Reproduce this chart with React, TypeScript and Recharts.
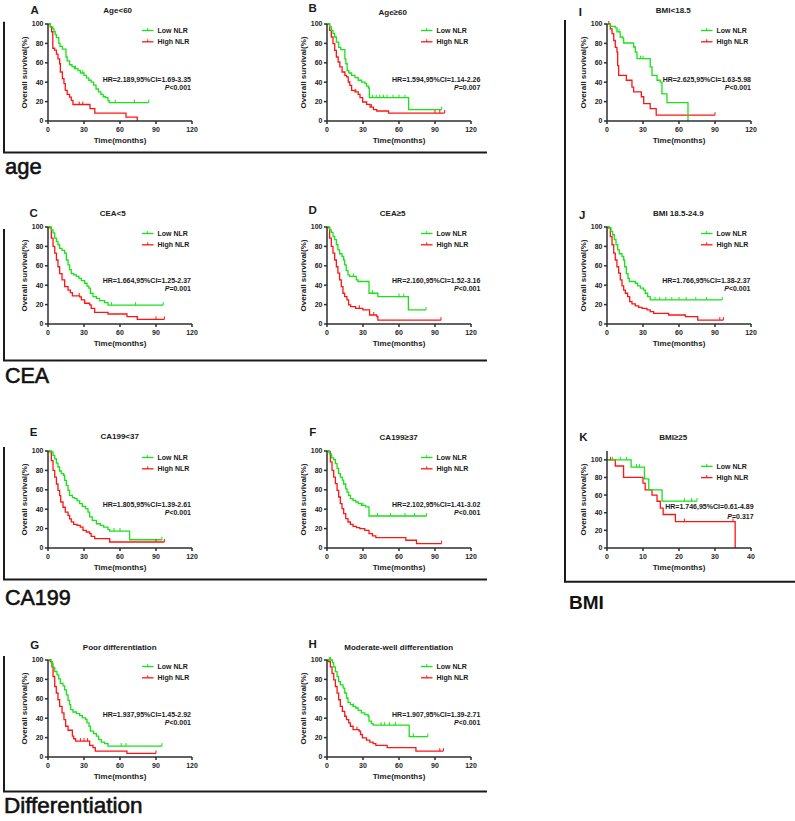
import React from 'react';
import { LineChart, Line, XAxis, YAxis } from 'recharts';

type P = [number, number];

// ---------- Data (time in months, survival in %) ----------
const A_low: P[] = [[0,100],[2,97],[4,95],[5,92],[6,89],[7,86],[9,80],[10,77],[12,74],[15,66],[16,62],[18,58],[20,56],[22,54],[25,52],[27,49.5],[30,47],[32,44.5],[34,42],[36,40],[38,37],[40,33],[42,30],[44,27.5],[46,25],[48,24],[50,21],[51,19],[84,19]];
const A_lowC = [23, 29, 56, 72, 84];
const A_high: P[] = [[0,100],[2,97],[3,92],[4,75],[5.5,73],[7,69],[8.3,64],[9.7,59],[10.3,50.5],[12,43.6],[13.3,38.5],[14.4,31.6],[16,27.5],[18,24.7],[19.4,21.3],[20.8,17],[35,12.7],[39,8.2],[65,4],[74.4,0]];
const A_highC = [26, 29];

const B_low: P[] = [[0,100],[2.2,97],[3.6,93.5],[5,90],[6.4,86.6],[7.8,81.4],[9.8,76],[11.5,73.5],[14.9,64],[15.7,59],[16.8,52],[18.2,49.5],[20.5,47],[23.3,44.7],[26,42],[28.9,40],[31.7,38.5],[33,36],[34.5,34],[35.3,24],[68,11.7],[95.6,11.7]];
const B_lowC = [38, 41, 44, 47, 50, 55, 60, 65, 95.6];
const B_high: P[] = [[0,100],[2.2,93.5],[3.6,86.6],[5,79.7],[6.4,72.9],[7.8,66],[9.3,60.8],[10.7,55.7],[12.6,50.5],[14.9,47],[16.3,45.4],[17.7,40.2],[19,36.8],[20.5,31.6],[23.3,30],[26,27.5],[27.5,24],[29.7,19.6],[33,17.2],[35.9,14.4],[38.7,11.7],[41.5,10.3],[51.3,8.2],[98,8.2]];
const B_highC = [24, 37, 90, 94, 98];

const I_low: P[] = [[0,100],[2.8,97.6],[6.9,96],[8.3,91.8],[11,86.6],[13.3,85],[13.9,80.4],[22.2,76.3],[23.6,71],[25,64.3],[36,55.7],[37.5,47],[41.7,42],[44.4,40],[45.8,28],[50,19],[67.5,0]];
const I_lowC = [3, 10, 28, 30];
const I_high: P[] = [[0,100],[2.8,95],[4.2,90],[5.6,83],[6.9,76],[8.3,71],[8.9,57],[9.7,47],[16.1,42],[20.8,35],[22.2,30],[28.6,25],[30.6,18],[36,12.7],[41,6],[90,6]];
const I_highC = [1.5, 90];

const C_low: P[] = [[0,100],[2.8,97],[4.2,94],[5.6,88.6],[7,85],[8.3,81.7],[9.7,78],[11.7,75.8],[13.9,73],[15.3,66],[16.7,61],[18,56],[19.4,52],[21.4,50.7],[23.6,49],[25.8,47],[27.8,44.8],[30.6,42],[32.5,39],[34,37],[35.3,31.7],[37.5,28.3],[40.3,26.5],[43,24],[47.2,22],[50,19.5],[96,19.5]];
const C_lowC = [53, 73, 96];
const C_high: P[] = [[0,100],[1.4,99],[2.8,88.6],[4.2,80],[5.6,73],[7,66],[8.3,59],[9.7,52],[11.7,45.5],[13.9,38.6],[16.7,35],[18.6,32.4],[20.3,29],[26.4,28],[27.8,24.8],[30.6,21.4],[34.7,19.7],[36,16.2],[38.9,12],[50,10.3],[65.8,7.6],[74.4,4.8],[97,4.8]];
const C_highC = [26, 90, 97];

const D_low: P[] = [[0,100],[2.2,97],[3.6,94.5],[5,90],[6.4,87],[7.8,81.7],[9.1,76.5],[10.5,72.4],[12.5,69.7],[13.9,66],[14.7,61],[16,55],[17.5,50.7],[18.8,49],[24.4,45.5],[25.8,43.8],[35,31.7],[42.4,28.3],[67.8,14.5],[82.5,14.5]];
const D_lowC = [22, 38, 60, 64, 82.5];
const D_high: P[] = [[0,100],[0.8,99],[2.2,88.6],[3.6,80],[5,73],[6.4,66],[7.8,59],[9.1,52.4],[10.5,45.5],[11.9,38.6],[13.3,31.7],[14.7,28.3],[16.6,24.8],[18,19.7],[19.7,18],[23.8,16.2],[29.9,14.5],[35.5,9.3],[41.5,7.6],[42.4,4],[95,4]];
const D_highC = [27, 39, 95];

const J_low: P[] = [[0,100],[2,99],[3.3,95.5],[4.7,92],[6.1,87],[7.5,81.7],[8.9,76.5],[10.3,72.4],[12.5,69.7],[13.9,66],[14.7,59],[16.1,52],[17.5,47],[18.6,43.8],[23.6,42],[25.6,39.3],[27.8,37],[30.6,35],[31.9,31.7],[33.9,28.3],[36,24.8],[96,24.8]];
const J_lowC = [40, 44, 49, 54, 60, 66, 74, 83, 96];
const J_high: P[] = [[0,100],[1.4,99],[2.8,90],[4.2,81.7],[5.6,73],[6.9,66],[8.3,59],[9.7,52.4],[11.1,45.5],[12.5,39.3],[13.9,35],[15.3,31.7],[17.2,28.3],[18.9,23],[20.8,20.7],[23.6,18.6],[26.4,17.2],[29.2,16.2],[33.3,14.5],[36,12.8],[38.9,11],[51.4,9.3],[65.3,7.6],[75.6,4],[97,4]];
const J_highC = [94, 97];

const E_low: P[] = [[0,100],[2.8,99],[4.2,95.5],[5.6,92],[7,87.6],[8.3,83.5],[9.7,79.4],[11.1,76.6],[13,75],[13.9,69.8],[15.3,64.6],[16.7,59.5],[18,54.3],[20.3,51.9],[22.2,50.9],[24.2,48.5],[26.4,45.7],[28.6,43],[31.4,40.5],[33.3,37],[34.7,32],[36.9,28.5],[40.3,25],[43.6,23.4],[46.4,21.6],[50,19],[51.4,17.5],[68,8.5],[95,8.5]];
const E_lowC = [55, 60, 95];
const E_high: P[] = [[0,100],[1.4,99],[2.8,90],[4.2,80],[5.6,73],[7,66],[8.3,59.5],[9.7,54],[10.6,47.4],[12.5,42],[14.4,37],[16.7,33.7],[18,30],[19.4,27],[21.4,24.4],[24.2,23.4],[26.9,21.6],[29.2,18.2],[31.9,16.5],[34.7,14.8],[36,12],[38.9,9.6],[51.4,6.2],[97,6.2]];
const E_highC = [90, 97];

const F_low: P[] = [[0,100],[2.2,97],[3.6,93],[5.6,91],[7,87],[8.4,82],[9.7,76.6],[11.1,73],[12.8,70],[13.9,66],[15.6,61],[16.7,57.7],[18.1,54.3],[19.5,51],[21.7,49],[24,47.4],[26,45.7],[28.7,44],[32.3,42.3],[35,33],[83,33]];
const F_lowC = [4, 30, 42, 53, 65, 73, 83];
const F_high: P[] = [[0,100],[1.4,99],[2.8,88.7],[4.2,80],[5.6,73],[7,66.3],[8.4,59.5],[9.7,52.6],[11.1,45.7],[12.5,40.5],[13.9,35.4],[15.6,30.2],[17.5,26.8],[19.5,24.4],[21.7,22.3],[24.5,21],[27.3,20],[31.5,18.2],[35,14.8],[37.9,12.4],[40.7,10.7],[65.7,8],[74.6,4.5],[95.5,4.5]];
const F_highC = [95.5];

const K_low: P[] = [[0,100],[6.7,91.7],[10.4,78.5],[11.6,66],[15.3,53.2],[25,53.2]];
const K_lowC = [1.5, 3.7, 5.4, 8.2, 9, 21.5, 23.5, 25];
const K_high: P[] = [[0,100],[2.3,93],[4.6,80],[10,73.6],[10.6,66],[12.5,60],[13.9,53],[14.8,45.3],[15.6,38],[19,30],[35.6,0]];
const K_highC = [1, 21.5, 35];

const G_low: P[] = [[0,100],[2.8,96.6],[4.2,92.5],[5.6,88],[7.5,84.6],[8.9,80.5],[10.3,76],[12.5,73.4],[13.9,69.3],[15.3,64],[16.7,58.4],[18,54],[18.9,48.8],[20.8,46.4],[23.6,44.7],[26.4,42.7],[28.6,40.3],[31.4,38.6],[32.5,35.2],[34.2,31.7],[35.3,26.6],[38,24.2],[40.3,21.5],[42.2,18],[44.4,15.4],[47.2,13.7],[50,11.3],[95,11.3]];
const G_lowC = [61, 65, 95];
const G_high: P[] = [[0,100],[1.9,98.3],[3.3,93],[4.2,83],[5.6,72.7],[6.9,66],[8.3,59],[9.7,52.2],[11.7,45.4],[13.3,38.6],[14.7,31.7],[16.7,27.6],[20.3,21.5],[21.4,18.8],[23,16.4],[34.7,12],[37.5,9.6],[39.4,6.1],[65.8,3.8],[90,3.8]];
const G_highC = [27, 30, 33, 90];

const H_low: P[] = [[0,100],[4.5,97.3],[5.6,93],[7,88],[8.4,83],[9.7,77.8],[11.1,74.4],[13.4,71],[14.8,66],[16.2,60.8],[17.5,56.3],[19.5,54],[21.7,52.2],[24,50.5],[26,48.1],[28.7,45.4],[31.5,43.7],[34.3,42],[35,36.9],[37,34.5],[38.4,32.8],[68.5,21],[84,21]];
const H_lowC = [2, 3, 22, 45, 48, 52, 57, 72, 84];
const H_high: P[] = [[0,100],[1.4,98.3],[2.8,93],[4.2,86.3],[5.6,79.5],[7,72.7],[8.4,65.9],[9.7,59],[11.1,52.2],[12.8,47],[14.8,42],[16.2,38.6],[18.1,35.2],[19.5,31.7],[21.7,28.3],[26.7,26.6],[27.9,23.2],[29.5,19.8],[32.9,17.4],[35.7,15.4],[38.4,13.7],[40.7,12],[50.1,9.6],[74.1,6.1],[97,6.1]];
const H_highC = [25, 94, 97];

// ---------- Tick labels & texts ----------
const monthTicks = [0, 30, 60, 90, 120];
const monthTicksK = [0, 10, 20, 30, 40];
const survTicks = [0, 20, 40, 60, 80, 100];
const legendNames = ['Low NLR', 'High NLR'];

// ---------- Styling ----------
const FONT = '"Liberation Sans", Arial, Helvetica, sans-serif';
const GREEN = '#17e317';
const RED = '#ff1414';
const AXIS = '#2e2e2e';
const INK = '#1a1a1a';

const PW = 144, PH = 97, PADL = 48, PADT = 28, PADR = 20, PADB = 30;

function stepValue(pts: P[], t: number) {
  let v = pts[0][1];
  for (const [pt, ps] of pts) {
    if (pt <= t) v = ps; else break;
  }
  return v;
}

function buildSeries(pts: P[], cens: number[]) {
  const rows = pts.map(([t, s]) => ({ t, s, c: false }));
  cens.forEach((ct) => rows.push({ t: ct, s: stepValue(pts, ct), c: true }));
  rows.sort((a, b) => (a.t - b.t) || ((a.c ? 1 : 0) - (b.c ? 1 : 0)));
  return rows;
}

const censorDot = (color: string) => (props: any) => {
  const { cx, cy, payload, index } = props;
  if (!payload || !payload.c || cx == null || cy == null) return <g key={`n${index}`} />;
  return <line key={`c${index}`} x1={cx} x2={cx} y1={cy - 3} y2={cy} stroke={color} strokeWidth={1} />;
};

type Cfg = {
  letter: string; title: string; hr: string; p: string;
  low: P[]; lowC: number[]; high: P[]; highC: number[];
  x0: number; yTop: number; xMax: number; yMax: number; xTicks: number[];
  letterPos: [number, number]; titlePos: [number, number];
  hrRight: number; hrDy: [number, number];
};

const COLX = [48.3, 327.3, 606.7];
const ROWY = [23.7, 227.3, 450.7, 660];

const panels: Cfg[] = [
  { letter: 'A', title: 'Age<60', hr: 'HR=2.189,95%CI=1.69-3.35', p: '<0.001', low: A_low, lowC: A_lowC, high: A_high, highC: A_highC,
    x0: COLX[0], yTop: ROWY[0], xMax: 120, yMax: 100, xTicks: monthTicks, letterPos: [-13.3, -13.7], titlePos: [69.7, -13.7], hrRight: 143, hrDy: [55, 63.3] },
  { letter: 'B', title: 'Age≥60', hr: 'HR=1.594,95%CI=1.14-2.26', p: '=0.007', low: B_low, lowC: B_lowC, high: B_high, highC: B_highC,
    x0: COLX[1], yTop: ROWY[0], xMax: 120, yMax: 100, xTicks: monthTicks, letterPos: [-14.3, -15.7], titlePos: [65.7, -11.7], hrRight: 153.4, hrDy: [55, 63.3] },
  { letter: 'I', title: 'BMI<18.5', hr: 'HR=2.625,95%CI=1.63-5.98', p: '<0.001', low: I_low, lowC: I_lowC, high: I_high, highC: I_highC,
    x0: COLX[2], yTop: ROWY[0], xMax: 120, yMax: 100, xTicks: monthTicks, letterPos: [-26.7, -11.7], titlePos: [66.3, -13.7], hrRight: 144, hrDy: [55, 63.3] },
  { letter: 'C', title: 'CEA<5', hr: 'HR=1.664,95%CI=1.25-2.37', p: '=0.001', low: C_low, lowC: C_lowC, high: C_high, highC: C_highC,
    x0: COLX[0], yTop: ROWY[1], xMax: 120, yMax: 100, xTicks: monthTicks, letterPos: [-14.3, -14.3], titlePos: [64.7, -14.3], hrRight: 143, hrDy: [53.6, 61.8] },
  { letter: 'D', title: 'CEA≥5', hr: 'HR=2.160,95%CI=1.52-3.16', p: '<0.001', low: D_low, lowC: D_lowC, high: D_high, highC: D_highC,
    x0: COLX[1], yTop: ROWY[1], xMax: 120, yMax: 100, xTicks: monthTicks, letterPos: [-14.3, -17.3], titlePos: [65.7, -14.3], hrRight: 153.4, hrDy: [53.6, 61.8] },
  { letter: 'J', title: 'BMI 18.5-24.9', hr: 'HR=1.766,95%CI=1.38-2.37', p: '<0.001', low: J_low, lowC: J_lowC, high: J_high, highC: J_highC,
    x0: COLX[2], yTop: ROWY[1], xMax: 120, yMax: 100, xTicks: monthTicks, letterPos: [-24.7, -12.3], titlePos: [71.3, -14.3], hrRight: 143.5, hrDy: [53.6, 61.8] },
  { letter: 'E', title: 'CA199<37', hr: 'HR=1.805,95%CI=1.39-2.61', p: '<0.001', low: E_low, lowC: E_lowC, high: E_high, highC: E_highC,
    x0: COLX[0], yTop: ROWY[2], xMax: 120, yMax: 100, xTicks: monthTicks, letterPos: [-14.3, -18.7], titlePos: [71.7, -14.7], hrRight: 143, hrDy: [53.6, 61.8] },
  { letter: 'F', title: 'CA199≥37', hr: 'HR=2.102,95%CI=1.41-3.02', p: '<0.001', low: F_low, lowC: F_lowC, high: F_high, highC: F_highC,
    x0: COLX[1], yTop: ROWY[2], xMax: 120, yMax: 100, xTicks: monthTicks, letterPos: [-14.3, -18.7], titlePos: [71.7, -13.7], hrRight: 153.4, hrDy: [53.6, 61.8] },
  { letter: 'K', title: 'BMI≥25', hr: 'HR=1.746,95%CI=0.61-4.89', p: '=0.317', low: K_low, lowC: K_lowC, high: K_high, highC: K_highC,
    x0: COLX[2], yTop: 450.5, xMax: 40, yMax: 110, xTicks: monthTicksK, letterPos: [-23.7, -14.5], titlePos: [66.3, -13.5], hrRight: 146.6, hrDy: [46.4, 56.7] },
  { letter: 'G', title: 'Poor differentiation', hr: 'HR=1.937,95%CI=1.45-2.92', p: '<0.001', low: G_low, lowC: G_lowC, high: G_high, highC: G_highC,
    x0: COLX[0], yTop: ROWY[3], xMax: 120, yMax: 100, xTicks: monthTicks, letterPos: [-13.3, -15], titlePos: [71.7, -13], hrRight: 143, hrDy: [54.3, 62.3] },
  { letter: 'H', title: 'Moderate-well differentiation', hr: 'HR=1.907,95%CI=1.39-2.71', p: '<0.001', low: H_low, lowC: H_lowC, high: H_high, highC: H_highC,
    x0: COLX[1], yTop: ROWY[3], xMax: 120, yMax: 100, xTicks: monthTicks, letterPos: [-14.3, -16], titlePos: [71.7, -13], hrRight: 153.4, hrDy: [54.3, 62.3] },
];

const tickStyle = { fontSize: 7, fontWeight: 700, fill: '#222', fontFamily: FONT };
const axisTitleStyle = { fontSize: 8, fontWeight: 700, fill: '#222', fontFamily: FONT };

function Panel({ cfg }: { cfg: Cfg }) {
  const W = PADL + PW + PADR;
  const H = PADT + PH + PADB;
  const low = buildSeries(cfg.low, cfg.lowC);
  const high = buildSeries(cfg.high, cfg.highC);
  const y100 = PADT + ((cfg.yMax - 100) / cfg.yMax) * PH;
  const lx = PADL + 94;
  const rows = [y100 + 6.5, y100 + 17.8];
  const colors = [GREEN, RED];
  return (
    <div style={{ position: 'absolute', left: cfg.x0 - PADL, top: cfg.yTop - PADT, width: W, height: H }}>
      <LineChart width={W} height={H} margin={{ top: PADT, right: PADR, bottom: 0, left: 0 }}>
        <XAxis
          type="number" dataKey="t" domain={[0, cfg.xMax]} ticks={cfg.xTicks} interval={0}
          height={PADB} tickSize={3} tickMargin={3} stroke={AXIS} strokeWidth={1.5}
          tick={tickStyle}
          label={{ value: 'Time(months)', position: 'insideBottom', offset: PADB - 21.5, style: axisTitleStyle }}
        />
        <YAxis
          type="number" domain={[0, cfg.yMax]} ticks={survTicks} interval={0}
          width={PADL} tickSize={3} tickMargin={1.5} stroke={AXIS} strokeWidth={1.5}
          tick={tickStyle}
          label={{ value: 'Overall survival(%)', angle: -90, position: 'center', style: axisTitleStyle }}
        />
        <Line data={high} dataKey="s" type="stepAfter" stroke={RED} strokeWidth={1.3}
          dot={censorDot(RED)} activeDot={false} isAnimationActive={false} name={legendNames[1]} />
        <Line data={low} dataKey="s" type="stepAfter" stroke={GREEN} strokeWidth={1.3}
          dot={censorDot(GREEN)} activeDot={false} isAnimationActive={false} name={legendNames[0]} />
      </LineChart>
      <svg width={W} height={H} style={{ position: 'absolute', left: 0, top: 0, overflow: 'visible', pointerEvents: 'none' }}>
        <text x={PADL + cfg.letterPos[0]} y={PADT + cfg.letterPos[1] + 4} textAnchor="middle"
          fontFamily={FONT} fontSize={11.5} fontWeight={700} fill={INK}>{cfg.letter}</text>
        <text x={PADL + cfg.titlePos[0]} y={PADT + cfg.titlePos[1] + 2.8} textAnchor="middle"
          fontFamily={FONT} fontSize={8} fontWeight={700} fill={INK}>{cfg.title}</text>
        {legendNames.map((n, i) => (
          <g key={n}>
            <line x1={lx} x2={lx + 11.5} y1={rows[i]} y2={rows[i]} stroke={colors[i]} strokeWidth={1.3} />
            <line x1={lx + 5.75} x2={lx + 5.75} y1={rows[i] - 2.5} y2={rows[i]} stroke={colors[i]} strokeWidth={1} />
            <text x={lx + 15.5} y={rows[i] + 2.5} fontFamily={FONT} fontSize={7} fontWeight={700} fill={INK}>{n}</text>
          </g>
        ))}
        <text x={PADL + cfg.hrRight} y={y100 + cfg.hrDy[0] + 2.5} textAnchor="end"
          fontFamily={FONT} fontSize={7} fontWeight={700} fill={INK}>{cfg.hr}</text>
        <text x={PADL + cfg.hrRight} y={y100 + cfg.hrDy[1] + 2.5} textAnchor="end"
          fontFamily={FONT} fontSize={7} fontWeight={700} fill={INK}>
          <tspan fontStyle="italic">P</tspan>
          <tspan>{cfg.p}</tspan>
        </text>
      </svg>
    </div>
  );
}

const groupLabels: { text: string; x: number; y: number; size: number; weight: number }[] = [
  { text: 'age', x: 5, y: 174, size: 22, weight: 400 },
  { text: 'CEA', x: 5, y: 382.7, size: 21.5, weight: 400 },
  { text: 'CA199', x: 5, y: 605, size: 21.5, weight: 400 },
  { text: 'Differentiation', x: 4, y: 813, size: 22.5, weight: 400 },
  { text: 'BMI', x: 569, y: 609.3, size: 19, weight: 700 },
];

const brackets = [
  'M4,21.7 V152.5 H487',
  'M4,229 V360.5 H487',
  'M4,447 V579.5 H487',
  'M4,656 V791.5 H487',
  'M565,20 V581.7 H795',
];

export default function App() {
  return (
    <div style={{ position: 'absolute', left: 0, top: 0, width: 795, height: 821, background: '#fff', overflow: 'hidden' }}>
      {panels.map((p) => <Panel key={p.letter} cfg={p} />)}
      <svg width={795} height={821} style={{ position: 'absolute', left: 0, top: 0, pointerEvents: 'none' }}>
        {brackets.map((d, i) => (
          <path key={i} d={d} fill="none" stroke={INK} strokeWidth={2} />
        ))}
        {groupLabels.map((g) => (
          <text key={g.text} x={g.x} y={g.y} fontFamily={FONT} fontSize={g.size} fontWeight={g.weight}
            fill="#111" stroke="#111" strokeWidth={g.weight > 400 ? 0 : 0.6}>{g.text}</text>
        ))}
      </svg>
    </div>
  );
}
